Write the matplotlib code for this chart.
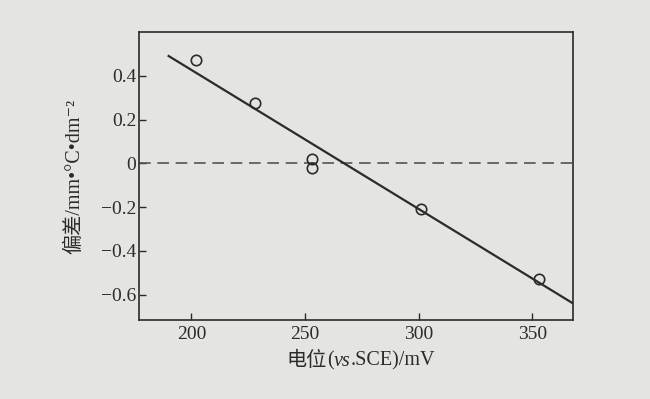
import numpy as np
import matplotlib
matplotlib.use('Agg')
import matplotlib.pyplot as plt
from matplotlib.offsetbox import TextArea, HPacker, AnchoredOffsetbox

# data
pot = [202, 228, 253, 253, 301, 353]           # mV vs SCE
dev = [0.47, 0.275, 0.022, -0.022, -0.21, -0.53]  # deviation
fit_x = [190, 368]                              # fitted line ends
fit_y = [0.49, -0.64]
xticks = [200, 250, 300, 350]
yticks = [0.4, 0.2, 0, -0.2, -0.4, -0.6]
ytick_labels = ['0.4', '0.2', '0', '\u22120.2', '\u22120.4', '\u22120.6']

fams = ['Liberation Serif', 'Noto Sans CJK SC', 'DejaVu Serif']
plt.rcParams['font.family'] = fams

bg = '#e4e4e1'
ink = '#2b2b2b'

fig = plt.figure(figsize=(6.5, 3.99), dpi=100, facecolor=bg)
ax = fig.add_axes([0.214, 0.198, 0.668, 0.722], facecolor=bg)

ax.axhline(0, color='#555555', lw=1.2, dashes=(7, 4))  # zero level
ax.plot(fit_x, fit_y, color=ink, lw=1.6)
ax.plot(pot, dev, 'o', mfc='none', mec=ink, mew=1.2, ms=7.5)

ax.set_xlim(177, 368)
ax.set_ylim(-0.715, 0.60)
ax.set_xticks(xticks)
ax.set_yticks(yticks)
ax.set_yticklabels(ytick_labels)
ax.tick_params(direction='in', length=5, width=1, colors=ink, labelsize=14)
ax.tick_params(axis='y', pad=2)
ax.tick_params(axis='x', pad=4)
for s in ax.spines.values():
    s.set_color(ink)
    s.set_linewidth(1.2)

# x label in pieces so "vs" can be italic next to the Chinese
tp = dict(size=14.5, color=ink, family=fams)
parts = [TextArea('电位', textprops=tp),
         TextArea('(', textprops=tp),
         TextArea('vs', textprops=dict(tp, style='italic')),
         TextArea('.SCE)/mV', textprops=tp)]
row = HPacker(children=parts, align='baseline', pad=0, sep=0)
lab = AnchoredOffsetbox(loc='center', child=row, pad=0, borderpad=0, frameon=False,
                        bbox_to_anchor=(361 / 650, 1 - 361 / 399),
                        bbox_transform=fig.transFigure)
fig.add_artist(lab)

ax.set_ylabel('偏差/mm\u2022°C\u2022dm\u207b\u00b2', fontsize=14.5, color=ink, labelpad=12)

fig.savefig('out.png', dpi=100, facecolor=bg)
